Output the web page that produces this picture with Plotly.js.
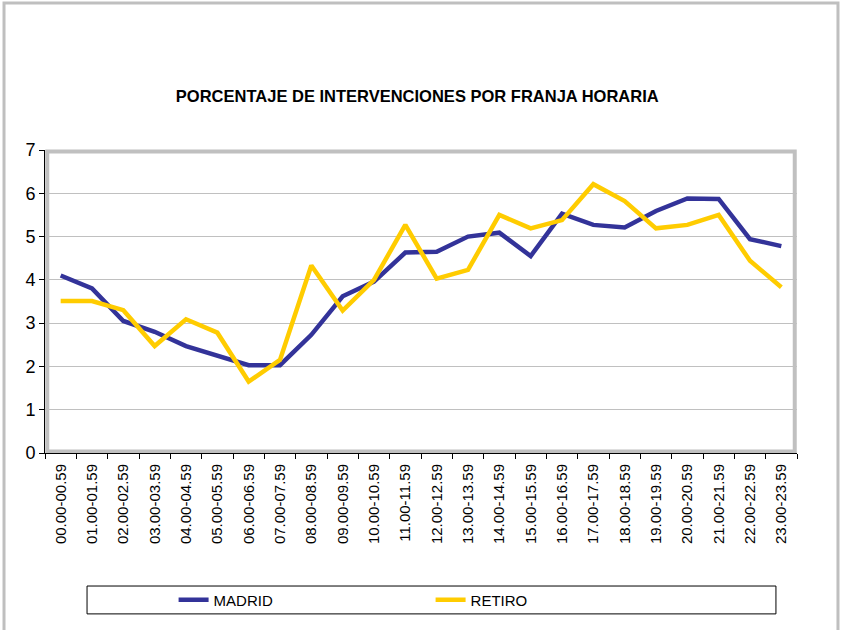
<!DOCTYPE html>
<html>
<head>
<meta charset="utf-8">
<script src="https://cdn.plot.ly/plotly-3.0.1.min.js"></script>
<style>
  body { margin: 0; background: #fff; }
  #chart { width: 843px; height: 630px; }
</style>
</head>
<body>
<div id="chart"></div>
<script>
// time slots (x categories)
var franjas = ["00.00-00.59", "01.00-01.59", "02.00-02.59", "03.00-03.59", "04.00-04.59",
  "05.00-05.59", "06.00-06.59", "07.00-07.59", "08.00-08.59", "09.00-09.59",
  "10.00-10.59", "11.00-11.59", "12.00-12.59", "13.00-13.59", "14.00-14.59",
  "15.00-15.59", "16.00-16.59", "17.00-17.59", "18.00-18.59", "19.00-19.59",
  "20.00-20.59", "21.00-21.59", "22.00-22.59", "23.00-23.59"];

// percentage of interventions per slot
var madrid = [4.1, 3.8, 3.05, 2.8, 2.47, 2.26, 2.03, 2.03, 2.73, 3.62, 3.96, 4.63,
  4.65, 5.0, 5.09, 4.55, 5.53, 5.27, 5.21, 5.59, 5.88, 5.87, 4.94, 4.78];
var retiro = [3.51, 3.51, 3.3, 2.47, 3.09, 2.78, 1.65, 2.15, 4.33, 3.29, 4.0, 5.27,
  4.03, 4.23, 5.5, 5.19, 5.38, 6.21, 5.82, 5.19, 5.27, 5.5, 4.44, 3.83];

var traceMadrid = {
  x: franjas,
  y: madrid,
  name: "MADRID",
  type: "scatter",
  mode: "lines",
  line: {color: "#333399", width: 4.5}
};
var traceRetiro = {
  x: franjas,
  y: retiro,
  name: "RETIRO",
  type: "scatter",
  mode: "lines",
  line: {color: "#ffcc00", width: 4.5}
};

var layout = {
  width: 843,
  height: 630,
  margin: {l: 45, r: 46, t: 150, b: 177},
  paper_bgcolor: "#ffffff",
  plot_bgcolor: "#ffffff",
  font: {family: "Liberation Sans, Arial, sans-serif", color: "#000"},
  title: {
    text: "<b>PORCENTAJE DE INTERVENCIONES POR FRANJA HORARIA</b>",
    font: {size: 16.5, color: "#000"},
    x: 0.495, xref: "container", xanchor: "center",
    y: 0.848, yref: "container", yanchor: "middle"
  },
  xaxis: {
    type: "category",
    tickangle: -90,
    tickfont: {size: 15},
    ticks: "outside",
    tickson: "boundaries",
    ticklen: 5,
    ticklabelstandoff: 4,
    tickcolor: "#000",
    showline: true,
    linecolor: "#000",
    linewidth: 1,
    showgrid: false,
    range: [-0.5, 23.5]
  },
  yaxis: {
    range: [0, 7],
    dtick: 1,
    tickfont: {size: 18},
    ticks: "outside",
    ticklen: 5,
    tickcolor: "#000",
    showline: true,
    linecolor: "#000",
    linewidth: 1,
    gridcolor: "#c0c0c0",
    gridwidth: 1,
    zeroline: false
  },
  showlegend: true,
  legend: {
    orientation: "h",
    x: 0.171, xanchor: "left",
    y: -0.485, yanchor: "middle",
    entrywidth: 212,
    entrywidthmode: "pixels",
    font: {size: 15},
    bgcolor: "rgba(0,0,0,0)",
    borderwidth: 0
  },
  shapes: [
    // outer chart frame
    {type: "rect", xref: "paper", yref: "paper", x0: -0.0545, x1: 1.0545, y0: -0.7, y1: 1.485,
     line: {color: "#bfbfbf", width: 3}, layer: "below"},
    // plot area frame (shaded top/right)
    {type: "rect", xref: "paper", yref: "paper", x0: 0.003, x1: 0.997, y0: 0.005, y1: 0.995,
     line: {color: "#c0c0c0", width: 4}, layer: "below"},
    // legend box
    {type: "rect", xref: "paper", yref: "paper", x0: 0.0559, x1: 0.972, y0: -0.531, y1: -0.439,
     line: {color: "#000", width: 1}}
  ]
};

Plotly.newPlot("chart", [traceMadrid, traceRetiro], layout, {displayModeBar: false});
</script>
</body>
</html>
